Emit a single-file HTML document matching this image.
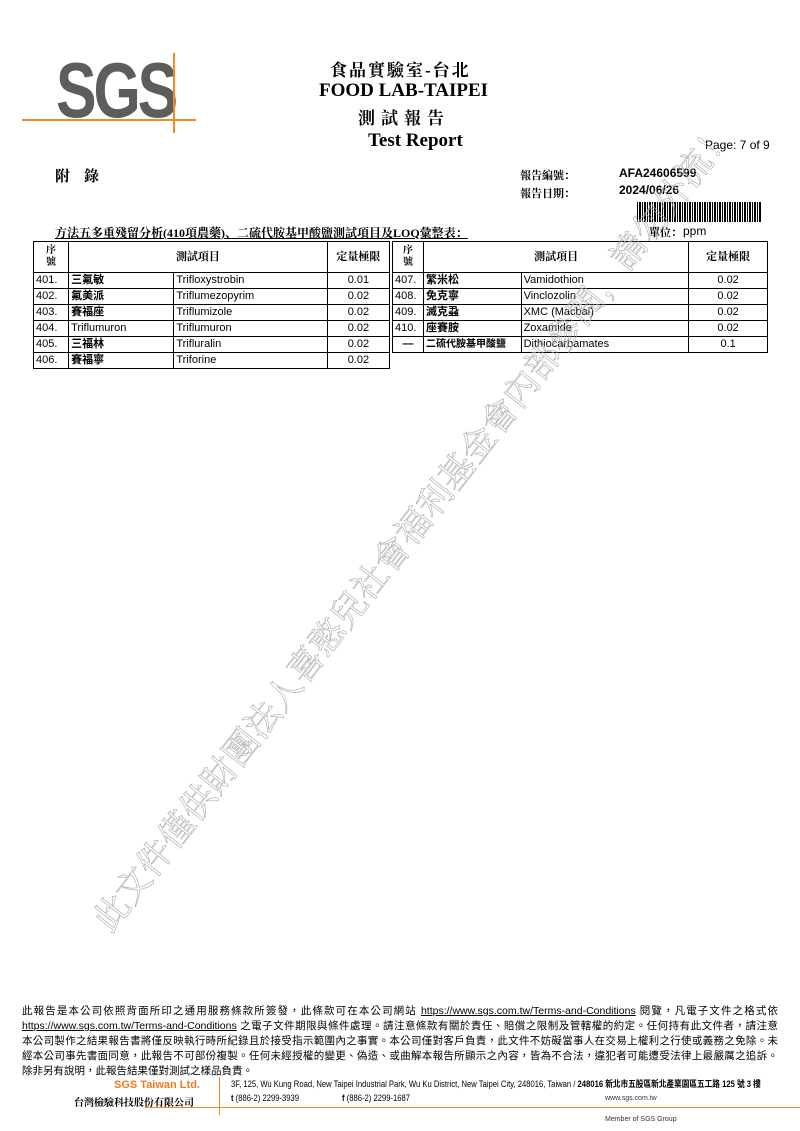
<!DOCTYPE html>
<html><head><meta charset="utf-8"><style>
body{margin:0;width:800px;height:1131px;background:#fff;position:relative;overflow:hidden;font-family:"Liberation Sans","Noto Sans CJK TC",sans-serif;color:#000}
.a{position:absolute;white-space:nowrap}
.serif{font-family:"Liberation Serif","Noto Serif CJK SC",serif}
table{position:absolute;border-collapse:collapse;font-size:11px}
td{border:1px solid #000;height:15px;padding:0 2px;line-height:15px}
.c{text-align:center}
.b{font-weight:bold}
.ft{position:absolute;left:22px;width:756px;font-size:10.5px;line-height:15px;height:15px;text-align:justify;text-align-last:justify;white-space:nowrap;overflow:visible}
</style></head><body>
<div class="a" style="left:56px;top:50px;font-size:78px;font-weight:bold;color:#5d5d5d;letter-spacing:-4px;transform:scaleX(0.78);transform-origin:left top;line-height:80px">SGS</div>
<div class="a" style="left:22px;top:119px;width:174px;height:2px;background:#f08a24"></div>
<div class="a" style="left:173px;top:53px;width:2px;height:80px;background:#f08a24"></div>
<div class="a serif b" style="left:330px;top:56px;font-size:17px;letter-spacing:2px">食品實驗室-台北</div>
<div class="a serif b" style="left:319px;top:80px;font-size:19px">FOOD LAB-TAIPEI</div>
<div class="a serif b" style="left:358px;top:104px;font-size:17px;letter-spacing:6px">測試報告</div>
<div class="a serif b" style="left:368px;top:130px;font-size:19px">Test Report</div>
<div class="a" style="left:705px;top:138px;font-size:12px">Page: 7 of 9</div>
<div class="a b serif" style="left:55px;top:165px;font-size:15px;letter-spacing:14px">附錄</div>
<div class="a b serif" style="left:520px;top:167px;font-size:11px">報告編號：</div>
<div class="a b serif" style="left:520px;top:185px;font-size:11px">報告日期：</div>
<div class="a b" style="left:619px;top:166px;font-size:12px">AFA24606599</div>
<div class="a b" style="left:619px;top:183px;font-size:12px">2024/06/26</div>
<div class="a" style="left:637px;top:202px;width:125px;height:20px;background:repeating-linear-gradient(90deg,#000 0 1px,#fff 1px 2px,#000 2px 4px,#fff 4px 5px)"></div>
<div class="a b serif" style="left:55px;top:224px;font-size:12px;text-decoration:underline">方法五多重殘留分析(410項農藥)、二硫代胺基甲酸鹽測試項目及LOQ彙整表：</div>
<div class="a b serif" style="left:649px;top:224px;font-size:11px">單位：</div>
<div class="a" style="left:683px;top:224px;font-size:12px">ppm</div>
<table style="left:33px;top:241px;width:357px">
<tr style="height:31px"><td class="c b serif" style="width:30px;font-size:10px;line-height:12px">序<br>號</td><td colspan="2" class="c b serif">測試項目</td><td class="c b serif" style="width:57px">定量極限</td></tr>
<tr><td>401.</td><td class="b" style="width:100px">三氟敏</td><td style="width:148px">Trifloxystrobin</td><td class="c">0.01</td></tr>
<tr><td>402.</td><td class="b">氟美派</td><td>Triflumezopyrim</td><td class="c">0.02</td></tr>
<tr><td>403.</td><td class="b">賽福座</td><td>Triflumizole</td><td class="c">0.02</td></tr>
<tr><td>404.</td><td>Triflumuron</td><td>Triflumuron</td><td class="c">0.02</td></tr>
<tr><td>405.</td><td class="b">三福林</td><td>Trifluralin</td><td class="c">0.02</td></tr>
<tr><td>406.</td><td class="b">賽福寧</td><td>Triforine</td><td class="c">0.02</td></tr>
</table>
<table style="left:392px;top:241px;width:376px">
<tr style="height:31px"><td class="c b serif" style="width:26px;font-size:10px;line-height:12px">序<br>號</td><td colspan="2" class="c b serif">測試項目</td><td class="c b serif" style="width:74px">定量極限</td></tr>
<tr><td>407.</td><td class="b" style="width:93px">繁米松</td><td style="width:163px">Vamidothion</td><td class="c">0.02</td></tr>
<tr><td>408.</td><td class="b">免克寧</td><td>Vinclozolin</td><td class="c">0.02</td></tr>
<tr><td>409.</td><td class="b">滅克蝨</td><td>XMC (Macbal)</td><td class="c">0.02</td></tr>
<tr><td>410.</td><td class="b">座賽胺</td><td>Zoxamide</td><td class="c">0.02</td></tr>
<tr><td class="c b">—</td><td class="b" style="font-size:10px">二硫代胺基甲酸鹽</td><td>Dithiocarbamates</td><td class="c">0.1</td></tr>
</table>
<div class="a serif" style="left:80px;top:910px;font-size:35px;color:transparent;-webkit-text-stroke:0.6px #aaa;transform:rotate(-52deg);transform-origin:left top;letter-spacing:0px">此文件僅供財團法人喜憨兒社會福利基金會內部參閱，請勿外流！</div>
<div class="ft" style="top:1004px">此報告是本公司依照背面所印之通用服務條款所簽發，此條款可在本公司網站 <u>https://www.sgs.com.tw/Terms-and-Conditions</u> 閱覽，凡電子文件之格式依</div>
<div class="ft" style="top:1019px"><u>https://www.sgs.com.tw/Terms-and-Conditions</u> 之電子文件期限與條件處理。請注意條款有關於責任、賠償之限制及管轄權的約定。任何持有此文件者，請注意</div>
<div class="ft" style="top:1034px">本公司製作之結果報告書將僅反映執行時所紀錄且於接受指示範圍內之事實。本公司僅對客戶負責，此文件不妨礙當事人在交易上權利之行使或義務之免除。未</div>
<div class="ft" style="top:1049px">經本公司事先書面同意，此報告不可部份複製。任何未經授權的變更、偽造、或曲解本報告所顯示之內容，皆為不合法，違犯者可能遭受法律上最嚴厲之追訴。</div>
<div class="a" style="left:22px;top:1064px;font-size:10.5px;line-height:15px">除非另有說明，此報告結果僅對測試之樣品負責。</div>
<div class="a b" style="left:114px;top:1079px;font-size:11px;color:#f07820">SGS Taiwan Ltd.</div>
<div class="a b serif" style="left:74px;top:1094px;font-size:10px">台灣檢驗科技股份有限公司</div>
<div class="a" style="left:145px;top:1107px;width:655px;height:1px;background:#f08a24"></div>
<div class="a" style="left:219px;top:1077px;width:1px;height:38px;background:#f08a24"></div>
<div class="a" style="left:231px;top:1077px;font-size:9px;transform:scaleX(0.85);transform-origin:left">3F, 125, Wu Kung Road, New Taipei Industrial Park, Wu Ku District, New Taipei City, 248016, Taiwan / <b>248016 新北市五股區新北產業園區五工路 125 號 3 樓</b></div>
<div class="a" style="left:231px;top:1093px;font-size:9px;transform:scaleX(0.85);transform-origin:left"><b>t</b> (886-2) 2299-3939</div>
<div class="a" style="left:342px;top:1093px;font-size:9px;transform:scaleX(0.85);transform-origin:left"><b>f</b> (886-2) 2299-1687</div>
<div class="a" style="left:605px;top:1095px;font-size:7px;color:#333">www.sgs.com.tw</div>
<div class="a" style="left:605px;top:1116px;font-size:7px;color:#333">Member of SGS Group</div>
</body></html>
